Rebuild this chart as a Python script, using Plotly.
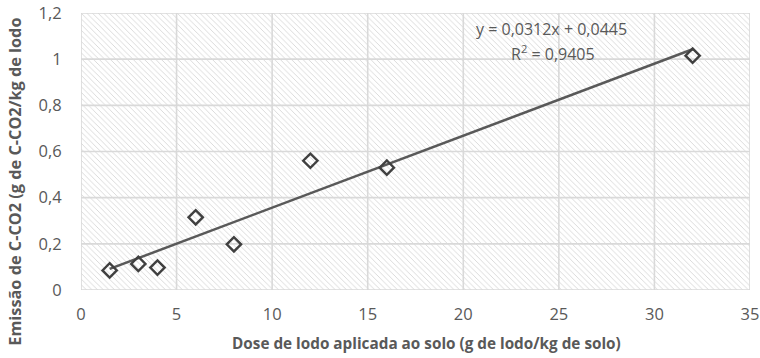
import plotly.graph_objects as go

# Dose of sludge applied to soil (g sludge / kg soil) and C-CO2 emission
dose = [1.5, 3, 4, 6, 8, 12, 16, 32]
emissao = [0.085, 0.113, 0.097, 0.315, 0.198, 0.56, 0.53, 1.015]

# Linear trendline coefficients as printed on the chart
slope = 0.0312
intercept = 0.0445
r2 = 0.9405

x_range = [0, 35]
y_range = [0, 1.2]
x_ticks = [0, 5, 10, 15, 20, 25, 30, 35]
y_ticks = [0, 0.2, 0.4, 0.6, 0.8, 1.0, 1.2]
y_ticktext = ["0", "0,2", "0,4", "0,6", "0,8", "1", "1,2"]

font_family = "Open Sans, Noto Sans, sans-serif"
text_gray = "#595959"
grid_gray = "#d9d9d9"

fig = go.Figure()

# Hatched plot-area background
fig.add_trace(go.Scatter(
    x=[x_range[0], x_range[1], x_range[1], x_range[0], x_range[0]],
    y=[y_range[0], y_range[0], y_range[1], y_range[1], y_range[0]],
    mode="none", fill="toself", fillcolor="white",
    fillpattern=dict(shape="\\", size=4, solidity=0.22,
                     fgcolor="#d6d6d6", bgcolor="white", fillmode="replace"),
    hoverinfo="skip", showlegend=False,
))

# Grid drawn over the hatching
gx, gy = [], []
for t in x_ticks:
    gx += [t, t, None]
    gy += [y_range[0], y_range[1], None]
for t in y_ticks:
    gx += [x_range[0], x_range[1], None]
    gy += [t, t, None]
fig.add_trace(go.Scatter(
    x=gx, y=gy, mode="lines", line=dict(color=grid_gray, width=1.6),
    hoverinfo="skip", showlegend=False, cliponaxis=False,
))

# Trendline across the data range
x_fit = [min(dose), max(dose)]
y_fit = [slope * v + intercept for v in x_fit]
fig.add_trace(go.Scatter(
    x=x_fit, y=y_fit, mode="lines",
    line=dict(color="#595959", width=2.5),
    showlegend=False,
))

# Observed points
fig.add_trace(go.Scatter(
    x=dose, y=emissao, mode="markers",
    marker=dict(symbol="diamond-open", size=11, color="#404040",
                line=dict(color="#404040", width=2.4)),
    showlegend=False,
))

# Trendline equation and R²
fig.add_annotation(
    x=24.6, y=1.132, xref="x", yref="y", showarrow=False,
    text="y = 0,0312x + 0,0445",
    font=dict(family=font_family, size=16, color=text_gray),
)
fig.add_annotation(
    x=24.7, y=1.028, xref="x", yref="y", showarrow=False,
    text="R<sup>2</sup> = 0,9405",
    font=dict(family=font_family, size=16, color=text_gray),
)

# Axis titles
fig.add_annotation(
    x=0.517, y=-0.19, xref="paper", yref="paper", showarrow=False,
    xanchor="center", yanchor="middle",
    text="<b>Dose de lodo aplicada ao solo (g de lodo/kg de solo)</b>",
    font=dict(family=font_family, size=15.3, color=text_gray),
)
fig.add_annotation(
    x=-0.099, y=0.39, xref="paper", yref="paper", showarrow=False,
    xanchor="center", yanchor="middle", textangle=-90,
    text="<b>Emissão de C-CO2 (g de C-CO2/kg de lodo</b>",
    font=dict(family=font_family, size=16.3, color=text_gray),
)

fig.update_layout(
    width=760, height=358,
    margin=dict(l=81, r=10, t=13, b=68),
    paper_bgcolor="white", plot_bgcolor="white",
    font=dict(family=font_family, color=text_gray),
    xaxis=dict(
        range=x_range, tickvals=x_ticks, showgrid=False, zeroline=False,
        showline=False, ticks="outside", ticklen=9, tickcolor="rgba(0,0,0,0)",
        automargin=False,
        tickfont=dict(size=16.5, color=text_gray),
    ),
    yaxis=dict(
        range=y_range, tickvals=y_ticks, ticktext=y_ticktext, showgrid=False,
        zeroline=False, showline=False, ticks="outside", ticklen=15,
        tickcolor="rgba(0,0,0,0)", automargin=False,
        tickfont=dict(size=16.5, color=text_gray),
    ),
)

fig.write_html("out.html")
